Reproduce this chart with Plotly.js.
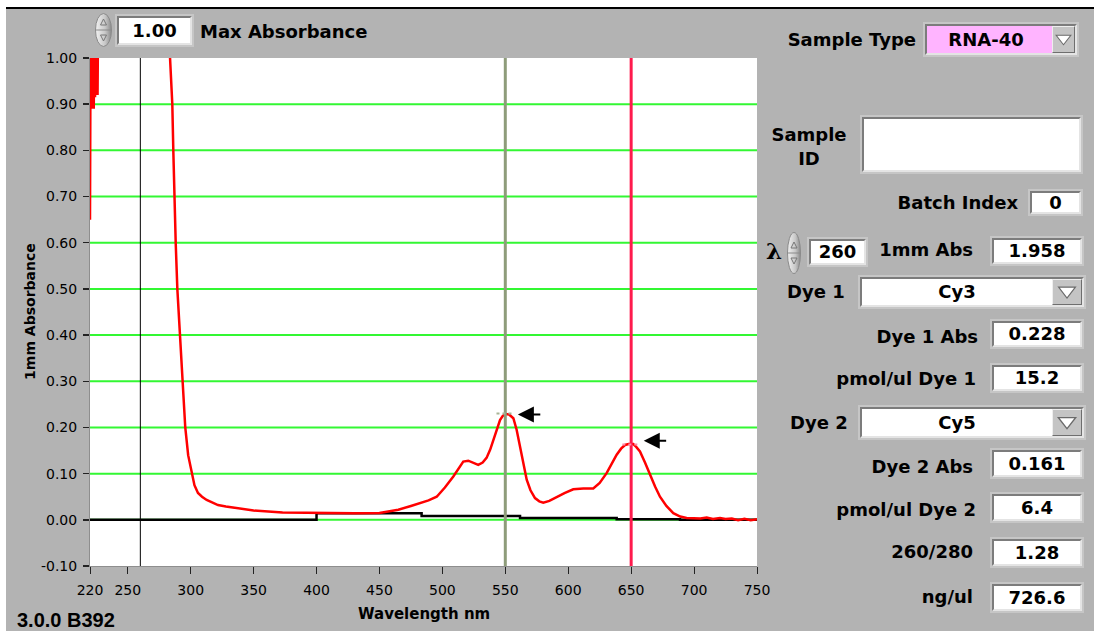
<!DOCTYPE html>
<html><head><meta charset="utf-8">
<script src="https://cdn.plot.ly/plotly-3.0.1.min.js"></script>
<style>
html,body{margin:0;padding:0;background:#fff;}
#wrap{position:relative;width:1094px;height:633px;overflow:hidden;background:#fff;}
#panel{position:absolute;left:6px;top:9px;width:1088px;height:622px;background:#b3b3b3;}
#topline{position:absolute;left:6px;top:7px;width:1088px;height:2px;background:#000;}
#chart{position:absolute;left:0;top:0;width:1094px;height:633px;}
.lbl{position:absolute;font-family:'DejaVu Sans';font-weight:bold;font-size:18px;color:#000;white-space:nowrap;line-height:20px;}
.box{position:absolute;background:#fff;box-sizing:border-box;border:2px solid;border-color:#7c7c7c #e4e4e4 #e4e4e4 #7c7c7c;box-shadow:0 0 0 2px #c6c6c6;font-family:'DejaVu Sans';font-weight:bold;font-size:18px;color:#000;text-align:center;white-space:nowrap;}
.btn{position:absolute;top:0;right:0;bottom:0;box-sizing:border-box;background:#c4c4c4;border:1px solid;border-color:#eeeeee #6e6e6e #6e6e6e #eeeeee;}
</style>
</head><body>
<div id="wrap">
  <div id="panel"></div>
  <div id="topline"></div>
  <div id="chart"></div>
</div>
<script>
// ---- spectrum data ----
const specWl = [220,220.5,221,221.5,222,222.5,223,223.5,224,224.5,225,225.5,226,226.5,228,240,250,260,270,280,
  283.6,285.4,286.2,287,288.1,289.4,291.5,293.3,295.7,298,300.8,303,305.8,309,312.7,317,321.7,328,336.5,350,373,400,430,450,
  465,475,482,489,495.5,502,508.7,513,516.6,520.6,524,528.5,532,535.1,538,540.4,543,545.8,548,550.5,553,556.4,559,561.7,564,567,570,
  573.6,577,580.2,585,590.8,597,604,612,619.9,625,630.5,635,638.5,642,645.1,648,651.7,654,657,661,665,669,672.9,678,683.5,689,694.1,
  700,705,710,715,720.6,725,730,735,740,745,750];
const specAbs = [0.65,1.1,0.89,1.2,0.9,1.15,0.89,1.2,0.915,1.3,0.92,1.25,0.92,1.4,1.7,2.1,2.0,1.958,1.75,1.53,
  1.0,0.9,0.8,0.7,0.6,0.5,0.4,0.3,0.2,0.14,0.1,0.075,0.058,0.05,0.043,0.037,0.032,0.029,0.025,0.02,0.016,0.015,0.014,0.015,
  0.022,0.03,0.036,0.042,0.05,0.07,0.094,0.112,0.126,0.128,0.124,0.119,0.124,0.134,0.152,0.173,0.195,0.216,0.225,0.229,0.228,0.22,0.195,0.159,0.125,0.087,0.064,
  0.047,0.04,0.037,0.041,0.05,0.058,0.066,0.068,0.068,0.08,0.101,0.122,0.141,0.154,0.162,0.164,0.164,0.158,0.148,0.124,0.097,0.072,0.05,0.03,0.0145,0.007,0.004,
  0.004,0.003,0.005,0.002,0.004,0.002,0.003,-0.001,0.002,-0.001,0.001];
const baseWl  = [220,400,483.5,561.7,638.5,688.8,750];
const baseAbs = [0,0.014,0.008,0.004,0.001,0.0,0.0];

// cursors / dye peaks
const cursorNm    = [260,550,650];
const cursorColor = ['#000000','#8e9c7a','#ff1a4d'];
const cursorWidth = [1,3,3];
const peakNm  = [550,650];
const peakAbs = [0.228,0.161];

// axes
const xTicks = [220,250,300,350,400,450,500,550,600,650,700,750];
const xTickLabels = ['220','250','300','350','400','450','500','550','600','650','700','750'];
const yTicks = [-0.1,0,0.1,0.2,0.3,0.4,0.5,0.6,0.7,0.8,0.9,1.0];
const yTickLabels = ['-0.10','0.00','0.10','0.20','0.30','0.40','0.50','0.60','0.70','0.80','0.90','1.00'];

// right panel
const panelLabels = ['1mm Abs','Dye 1 Abs','pmol/ul Dye 1','Dye 2 Abs','pmol/ul Dye 2','260/280','ng/ul'];
const panelValues = ['1.958','0.228','15.2','0.161','6.4','1.28','726.6'];
const sampleType = 'RNA-40';
const dyeNames = ['Cy3','Cy5'];
const batchIndex = '0';
const lambdaNm = '260';
const maxAbs = '1.00';

// ---------- plot ----------
const shapes = [];
yTicks.forEach(v=>{
  if(v>-0.1+1e-9 && v<1.0-1e-9){
    shapes.push({type:'line',xref:'paper',x0:0,x1:1,yref:'y',y0:v,y1:v,layer:'below',line:{color:'#33f733',width:2}});
  }
});
cursorNm.forEach((c,i)=>{
  shapes.push({type:'line',xref:'x',x0:c,x1:c,yref:'paper',y0:0,y1:1,layer:'above',line:{color:cursorColor[i],width:cursorWidth[i]}});
});
const markColor=['#a8b496','#ff8aa6'];
peakNm.forEach((p,i)=>{
  shapes.push({type:'line',xref:'x',x0:p-7,x1:p+7,yref:'y',y0:peakAbs[i]+0.002,y1:peakAbs[i]+0.002,layer:'above',line:{color:markColor[i],width:2,dash:'dot'}});
});
const annotations = [];
const arrowDy=[0,0.01];
peakNm.forEach((p,i)=>{
  annotations.push({x:p+10,y:peakAbs[i]+arrowDy[i],xref:'x',yref:'y',ax:p+29,ay:peakAbs[i]+arrowDy[i],axref:'x',ayref:'y',
    text:'',showarrow:true,arrowhead:2,arrowsize:1.6,arrowwidth:2,arrowcolor:'#000'});
});
annotations.push({text:'<b>Wavelength nm</b>',xref:'paper',yref:'paper',x:0.5,y:-0.094,xanchor:'center',yanchor:'middle',showarrow:false,
  font:{family:'DejaVu Sans',size:15,color:'#000'}});
annotations.push({text:'<b>1mm Absorbance</b>',xref:'paper',yref:'paper',x:-0.09,y:0.502,xanchor:'center',yanchor:'middle',showarrow:false,textangle:-90,
  font:{family:'DejaVu Sans',size:14,color:'#000'}});

const traces = [
  {x:baseWl,y:baseAbs,type:'scatter',mode:'lines',line:{color:'#000',width:2.5,shape:'hv'},hoverinfo:'skip'},
  {x:specWl,y:specAbs,type:'scatter',mode:'lines',line:{color:'#ff0000',width:2.5},hoverinfo:'skip'}
];
const layout = {
  width:1094,height:633,
  margin:{l:90,r:337,t:58,b:67,pad:0},
  paper_bgcolor:'rgba(0,0,0,0)',plot_bgcolor:'#ffffff',
  showlegend:false,
  font:{family:'DejaVu Sans',size:14,color:'#000'},
  xaxis:{range:[220,750],tickvals:xTicks,ticktext:xTickLabels,ticks:'outside',ticklen:7,tickwidth:1,tickcolor:'#222',
    showgrid:false,zeroline:false,showline:true,linecolor:'#8e8e8e',linewidth:1,ticklabelstandoff:4,
    tickfont:{family:'DejaVu Sans',size:14,color:'#000'},fixedrange:true},
  yaxis:{range:[-0.1,1.0],tickvals:yTicks,ticktext:yTickLabels,ticks:'outside',ticklen:6,tickwidth:1.5,tickcolor:'#222',
    showgrid:false,zeroline:false,showline:true,linecolor:'#8e8e8e',linewidth:1,ticklabelstandoff:3,
    tickfont:{family:'DejaVu Sans',size:14,color:'#000'},fixedrange:true},
  shapes:shapes,annotations:annotations
};
Plotly.newPlot('chart',traces,layout,{displayModeBar:false,staticPlot:true});

// ---------- panel widgets ----------
const wrap=document.getElementById('wrap');
function el(tag,cls,style,html){const d=document.createElement(tag);if(cls)d.className=cls;Object.assign(d.style,style||{});if(html!==undefined)d.innerHTML=html;wrap.appendChild(d);return d;}
function labelR(text,right,cy){el('div','lbl',{right:(1094-right)+'px',top:(cy-10)+'px'},text);}
function labelL(text,left,cy){el('div','lbl',{left:left+'px',top:(cy-10)+'px'},text);}
function box(text,l,t,w,h){el('div','box',{left:l+'px',top:t+'px',width:w+'px',height:h+'px',lineHeight:(h-4)+'px'},text);}
const tri='<svg width="100%" height="100%" viewBox="0 0 20 20" preserveAspectRatio="xMidYMid meet"><polygon points="3,6 17,6 10,15" fill="#fff" stroke="#6a6a6a" stroke-width="1"/></svg>';
function drop(text,l,t,w,h,bg){
  const d=el('div','box',{left:l+'px',top:t+'px',width:w+'px',height:h+'px',lineHeight:(h-4)+'px',background:bg,textAlign:'left'});
  const s=document.createElement('div');s.textContent=text;Object.assign(s.style,{position:'absolute',left:0,right:'30px',top:0,bottom:0,textAlign:'center'});
  d.appendChild(s);
  const b=document.createElement('div');b.className='btn';b.style.width=(w>170?30:23)+'px';b.innerHTML=tri;d.appendChild(b);
}
function spinner(l,t,w,h){
  el('div','',{position:'absolute',left:l+'px',top:t+'px',width:w+'px',height:h+'px'},
  '<svg width="'+w+'" height="'+h+'" viewBox="0 0 '+w+' '+h+'"><defs><linearGradient id="g'+l+'" x1="0" x2="1"><stop offset="0" stop-color="#f2f2f2"/><stop offset="0.6" stop-color="#c8c8c8"/><stop offset="1" stop-color="#8a8a8a"/></linearGradient></defs>'+
  '<ellipse cx="'+(w/2)+'" cy="'+(h/2)+'" rx="'+(w/2-0.5)+'" ry="'+(h/2-0.5)+'" fill="url(#g'+l+')" stroke="#8a8a8a"/>'+
  '<line x1="1" y1="'+(h/2)+'" x2="'+(w-1)+'" y2="'+(h/2)+'" stroke="#8a8a8a"/>'+
  '<polygon points="'+(w/2-3)+','+(h/2-5)+' '+(w/2+3)+','+(h/2-5)+' '+(w/2)+','+(h/2-11)+'" fill="none" stroke="#777"/>'+
  '<polygon points="'+(w/2-3)+','+(h/2+5)+' '+(w/2+3)+','+(h/2+5)+' '+(w/2)+','+(h/2+11)+'" fill="none" stroke="#777"/></svg>');
}

// top: max absorbance
spinner(95,13,17,34);
box(maxAbs,117,16,75,29);
labelL('Max Absorbance',200,32);

// sample type
labelR('Sample Type',916,40);
drop(sampleType,925,24,152,31,'#ffb4ff');

// sample id
el('div','lbl',{left:'767px',top:'123px',width:'84px',textAlign:'center',lineHeight:'24px'},'Sample<br>ID');
box('',862,117,219,55);

// batch index
labelR('Batch Index',1018,203);
box(batchIndex,1030,191,51,23);

// lambda
el('div','',{position:'absolute',left:'766px',top:'238px',fontFamily:'DejaVu Serif',fontWeight:'bold',fontSize:'23px',lineHeight:'26px'},'λ');
spinner(787,232,14,42);
box(lambdaNm,809,239,57,26);

// values
const valTop=[238,321,365,450,494,539,584];
const valCy=[250,337,379,467,510,552,597];
const valRight=[973,978,976,973,976,973,973];
panelLabels.forEach((t,i)=>{labelR(t,valRight[i],valCy[i]);box(panelValues[i],992,valTop[i],90,26+(i>=3?1:0));});

// dyes
labelL('Dye 1',787,292);
drop(dyeNames[0],860,277,224,30,'#ffffff');
labelL('Dye 2',790,423);
drop(dyeNames[1],860,407,224,31,'#ffffff');

// version
el('div','',{position:'absolute',left:'17px',top:'608px',fontFamily:'Liberation Sans',fontWeight:'bold',fontSize:'20px',lineHeight:'24px'},'3.0.0 B392');
</script>
</body></html>
